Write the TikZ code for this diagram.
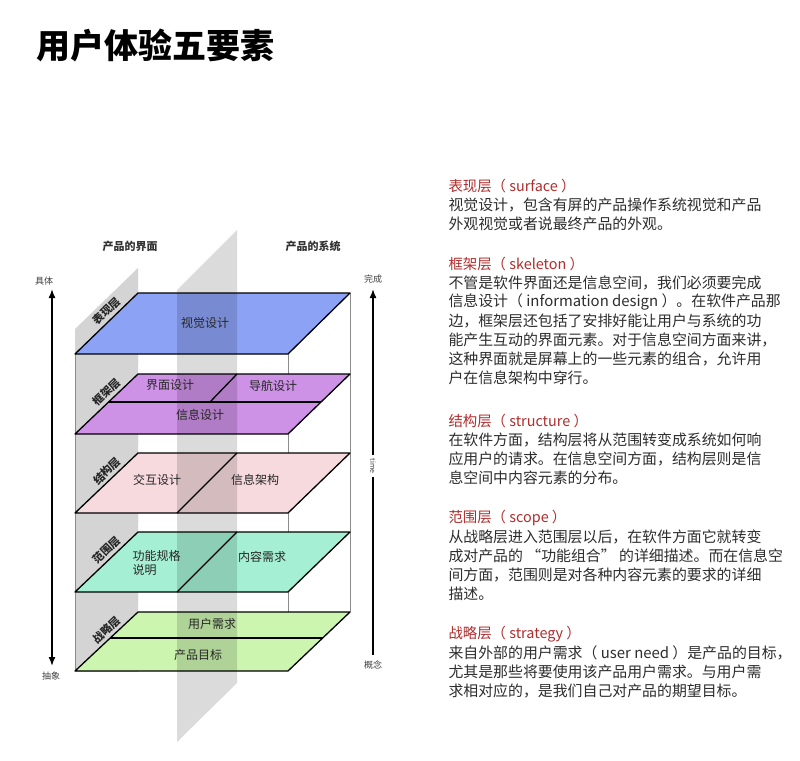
\documentclass[tikz,border=0pt]{standalone}
\usepackage{fontspec}
\setmainfont{Noto Sans CJK SC}
\usetikzlibrary{arrows.meta}
\definecolor{surfc}{RGB}{140,162,245}
\definecolor{skelc}{RGB}{205,145,230}
\definecolor{strc}{RGB}{246,218,222}
\definecolor{scopec}{RGB}{165,240,212}
\definecolor{stratc}{RGB}{204,246,175}
\definecolor{headred}{RGB}{175,45,45}
\definecolor{bodygray}{RGB}{45,45,45}
\tikzset{
  layer/.style={draw=black, line width=1.3pt, line join=round},
  sideplane/.style={fill=black!17},
  layertext/.style={font=\fontsize{12}{14}\selectfont, text=black!85},
  sidelabel/.style={font=\fontsize{11}{13}\selectfont\bfseries, rotate=44, text=black!85},
  head/.style={anchor=west, font=\fontsize{14.4}{16}\selectfont, text=headred},
  body/.style={anchor=west, font=\fontsize{14.9}{16}\selectfont, text=bodygray},
  axis/.style={line width=1.6pt, -{Latex[length=9pt,width=7pt]}},
  small/.style={font=\fontsize{9}{11}\selectfont, text=black!75}
}
\begin{document}
\begin{tikzpicture}[x=1pt, y=-1pt]
\useasboundingbox (0,0) rectangle (800,760);
\fill[white] (0,0) rectangle (800,760);

% title
\node[anchor=west, font=\fontsize{34}{36}\selectfont\bfseries] (title) at (33,45) {用户体验五要素};

% side planes behind each layer
\foreach \B/\F in {293/354, 374/434, 453/513, 532/592, 612/671}
  \fill[sideplane] (75,\F-25) -- (138,\B-25) -- (138,\B+70) -- (75,\F+70) -- cycle;
\fill[white] (60,672) rectangle (160,760);

% frame lines
\draw[black!45] (75,354) -- (75,671);
\draw[black!45] (288,354) -- (288,671);
\draw[black!45] (350,293) -- (350,612);

% layers
\draw[layer, fill=surfc]  (75,354) -- (138,293) -- (350,293) -- (288,354) -- cycle;
\draw[layer, fill=skelc]  (75,434) -- (138,374) -- (350,374) -- (288,434) -- cycle;
\draw[layer, fill=strc]   (75,513) -- (138,453) -- (350,453) -- (288,513) -- cycle;
\draw[layer, fill=scopec] (75,592) -- (138,532) -- (350,532) -- (288,592) -- cycle;
\draw[layer, fill=stratc] (75,671) -- (138,612) -- (350,612) -- (288,671) -- cycle;
\draw[layer] (109,402) -- (321,402);
\draw[layer] (237,374) -- (210,402);
\draw[layer] (237,453) -- (177,513);
\draw[layer] (237,532) -- (177,592);
\draw[layer] (110,638) -- (323,638);

% middle plane
\fill[black, fill opacity=0.14] (177,290) -- (237,230) -- (237,683) -- (177,742) -- cycle;

% layer labels
\node[sidelabel] (lsurf)  at (107,311) {表现层};
\node[sidelabel] (lskel)  at (107,392) {框架层};
\node[sidelabel] (lstr)   at (107,471) {结构层};
\node[sidelabel] (lscope) at (107,550) {范围层};
\node[sidelabel] (lstrat) at (107,630) {战略层};

\node[layertext] (visual) at (205,323) {视觉设计};
\node[layertext] (ui)     at (170,385) {界面设计};
\node[layertext] (nav)    at (273,386) {导航设计};
\node[layertext] (info)   at (200,415) {信息设计};
\node[layertext] (inter)  at (157,480) {交互设计};
\node[layertext] (arch)   at (255,480) {信息架构};
\node[layertext, align=left, anchor=west] (func) at (129,563) {功能规格\\说明};
\node[layertext] (content) at (262,557) {内容需求};
\node[layertext] (need)   at (212,624) {用户需求};
\node[layertext] (goal)   at (198,655) {产品目标};

% axes
\node[small] (conc) at (44,281) {具体};
\node[small] (abst) at (51,676) {抽象};
\node[small] (done) at (373,279) {完成};
\node[small] (idea) at (373,665) {概念};
\node[small, rotate=-90, font=\fontsize{7}{8}\selectfont] (time) at (373,466) {time};
\coordinate (la) at (52,478);
\coordinate (ltop) at (52,289);
\coordinate (lbot) at (52,666);
\coordinate (rtop) at (373,289);
\coordinate (rbot) at (373,655);
\draw[axis] (la) -- (ltop);
\draw[axis] (la) -- (lbot);
\draw[line width=1.6pt] (time.east) -- (rbot);
\draw[axis] (time.west) -- (rtop);

\node[font=\fontsize{11}{13}\selectfont\bfseries, text=black!80] (iface) at (130,246) {产品的界面};
\node[font=\fontsize{11}{13}\selectfont\bfseries, text=black!80] (sys)   at (313,246) {产品的系统};

% descriptions
\node[head] (h1) at (445,186) {表现层（ surface ）};
\node[body] at (445,205) {视觉设计，包含有屏的产品操作系统视觉和产品};
\node[body] at (445,224) {外观视觉或者说最终产品的外观。};

\node[head] (h2) at (445,264) {框架层（ skeleton ）};
\node[body] at (445,283) {不管是软件界面还是信息空间，我们必须要完成};
\node[body] at (445,302) {信息设计（ information design ）。在软件产品那};
\node[body] at (445,321) {边，框架层还包括了安排好能让用户与系统的功};
\node[body] at (445,340) {能产生互动的界面元素。对于信息空间方面来讲，};
\node[body] at (445,359) {这种界面就是屏幕上的一些元素的组合，允许用};
\node[body] at (445,378) {户在信息架构中穿行。};

\node[head] (h3) at (445,421) {结构层（ structure ）};
\node[body] at (445,440) {在软件方面，结构层将从范围转变成系统如何响};
\node[body] at (445,459) {应用户的请求。在信息空间方面，结构层则是信};
\node[body] at (445,478) {息空间中内容元素的分布。};

\node[head] (h4) at (445,518) {范围层（ scope ）};
\node[body] at (445,537) {从战略层进入范围层以后，在软件方面它就转变};
\node[body] at (445,556) {成对产品的 “功能组合” 的详细描述。而在信息空};
\node[body] at (445,575) {间方面，范围则是对各种内容元素的要求的详细};
\node[body] at (445,594) {描述。};

\node[head] (h5) at (445,634) {战略层（ strategy ）};
\node[body] at (445,653) {来自外部的用户需求（ user need ）是产品的目标，};
\node[body] at (445,672) {尤其是那些将要使用该产品用户需求。与用户需};
\node[body] at (445,691) {求相对应的，是我们自己对产品的期望目标。};
\end{tikzpicture}
\end{document}
